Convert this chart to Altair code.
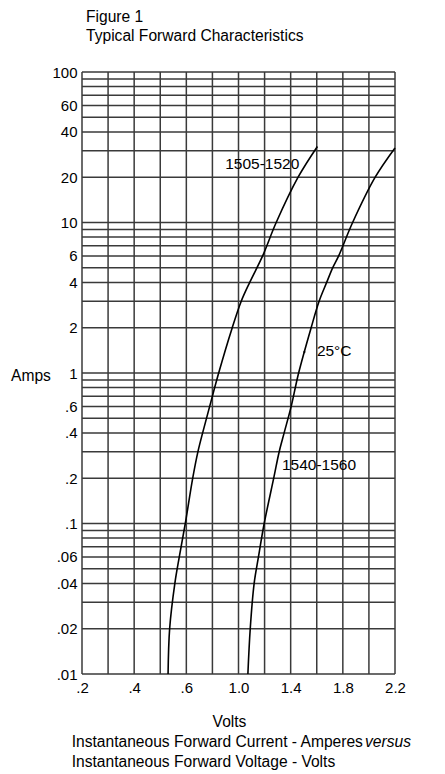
import altair as alt
import pandas as pd

# ---- data ----
volts_a = [0.530, 0.536, 0.556, 0.573, 0.596, 0.649, 0.689, 0.725, 0.779,
           0.848, 0.952, 1.021, 1.086, 1.185, 1.289, 1.457, 1.605]
amps_a = [0.01, 0.02, 0.04, 0.06, 0.1, 0.2, 0.3, 0.4, 0.6,
          1, 2, 3, 4, 6, 10, 20, 32]

volts_b = [1.072, 1.090, 1.120, 1.153, 1.197, 1.270, 1.312, 1.350, 1.404,
           1.461, 1.557, 1.618, 1.676, 1.722, 1.768, 1.875, 2.048, 2.200]
amps_b = [0.01, 0.02, 0.04, 0.06, 0.1, 0.2, 0.3, 0.4, 0.6,
          1, 2, 3, 4, 5, 6, 10, 20, 31.3]

x_grid = [0.2, 0.3, 0.4, 0.5, 0.6, 0.8, 1.0, 1.2, 1.4, 1.6, 1.8, 2.0, 2.2]
y_grid = [0.01, 0.02, 0.03, 0.04, 0.05, 0.06, 0.07, 0.08, 0.09,
          0.1, 0.2, 0.3, 0.4, 0.5, 0.6, 0.7, 0.8, 0.9,
          1, 2, 3, 4, 5, 6, 7, 8, 9,
          10, 20, 30, 40, 50, 60, 70, 80, 90, 100]
x_labels = [0.2, 0.4, 0.6, 1.0, 1.4, 1.8, 2.2]
y_labels = [0.01, 0.02, 0.04, 0.06, 0.1, 0.2, 0.4, 0.6, 1, 2, 4, 6, 10, 20, 40, 60, 100]

curve_names = ["1505-1520", "1540-1560"]
note_text = ["1505-1520", "1540-1560", "25°C"]
note_volts = [0.898, 1.333, 1.601]
note_amps = [24.5, 0.245, 1.41]
marker_volts = [1.505]
marker_amps = [1.38]

# ---- layout ----
W, H = 313, 602
FONT = "Liberation Sans"
xs = alt.Scale(domain=[0.2, 0.6, 2.2], range=[0, W * 4 / 12, W])
ys = alt.Scale(type="log", domain=[0.01, 100], nice=False)

x_axis = alt.Axis(values=x_labels, title=None, grid=False, ticks=False, domain=False,
                  labelFlush=False, labelPadding=6, labelFont=FONT, labelFontSize=15,
                  labelColor="black",
                  labelExpr="datum.value < 1 ? replace(format(datum.value, '.1f'), '0.', '.') : format(datum.value, '.1f')")
y_axis = alt.Axis(values=y_labels, title=None, grid=False, ticks=False, domain=False,
                  labelFlush=False, labelPadding=5, labelFont=FONT, labelFontSize=15,
                  labelColor="black",
                  labelExpr="datum.value < 1 ? replace(toString(datum.value), '0.', '.') : toString(datum.value)")

curves = pd.DataFrame({
    "volts": volts_a + volts_b,
    "amps": amps_a + amps_b,
    "curve": [curve_names[0]] * len(volts_a) + [curve_names[1]] * len(volts_b),
})

vgrid = alt.Chart(pd.DataFrame({"v": x_grid})).mark_rule(
    color="#3a3a3a", strokeWidth=1.5
).encode(x=alt.X("v:Q", scale=xs, axis=x_axis))

hgrid = alt.Chart(pd.DataFrame({"a": y_grid})).mark_rule(
    color="#3a3a3a", strokeWidth=1.5
).encode(y=alt.Y("a:Q", scale=ys, axis=y_axis))

lines = alt.Chart(curves).mark_line(color="black", strokeWidth=1.6, interpolate="catmull-rom").encode(
    x=alt.X("volts:Q", scale=xs, axis=x_axis),
    y=alt.Y("amps:Q", scale=ys, axis=y_axis),
    detail="curve:N",
    order="amps:Q",
)

notes = alt.Chart(pd.DataFrame({"t": note_text, "v": note_volts, "a": note_amps})).mark_text(
    align="left", baseline="middle", font=FONT, fontSize=15.5, color="black"
).encode(x=alt.X("v:Q", scale=xs, axis=x_axis), y=alt.Y("a:Q", scale=ys, axis=y_axis), text="t:N")

marker = alt.Chart(pd.DataFrame({"v": marker_volts, "a": marker_amps})).mark_point(
    shape="circle", filled=True, size=6, color="black"
).encode(x=alt.X("v:Q", scale=xs, axis=x_axis), y=alt.Y("a:Q", scale=ys, axis=y_axis))


def label(text, x, y, align="left", style="normal"):
    return alt.Chart(pd.DataFrame({"t": [text]})).mark_text(
        align=align, baseline="alphabetic", font=FONT, fontSize=15.6,
        fontStyle=style, color="black"
    ).encode(x=alt.value(x), y=alt.value(y), text="t:N")


texts = [
    label("Figure 1", 4, -50.5),
    label("Typical Forward Characteristics", 4, -31.5),
    label("Amps", -71, 309),
    label("Volts", 147.5, 654.7, align="center"),
    label("Instantaneous Forward Current - Amperes", -10.3, 674.7),
    label("versus", 283, 674.7, style="italic"),
    label("Instantaneous Forward Voltage - Volts", -10.3, 694.7),
]

chart = alt.layer(vgrid, hgrid, lines, notes, marker, *texts).properties(
    width=W, height=H,
    autosize=alt.AutoSizeParams(type="none"),
    padding={"left": 74, "top": 64, "right": 40, "bottom": 98},
).configure_view(strokeWidth=0)

chart.save("out.html", embed_options={"renderer": "svg", "actions": False})
